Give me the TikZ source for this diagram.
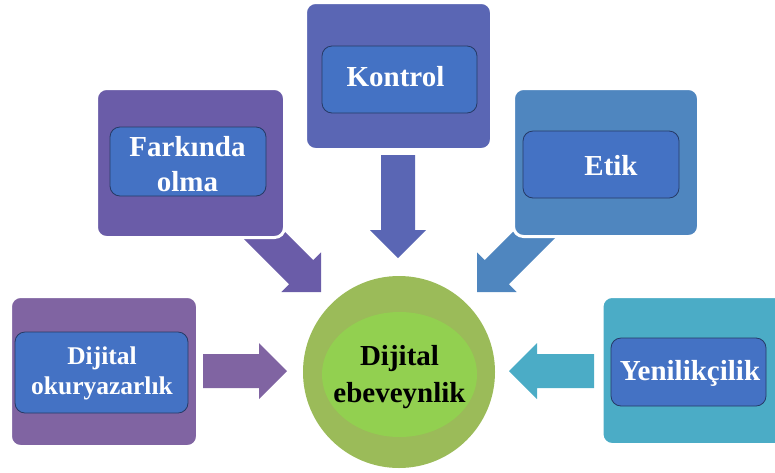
\documentclass[tikz,border=0pt]{standalone}
\usepackage{fontspec}
\setmainfont{Liberation Serif}
\usetikzlibrary{calc,shapes.geometric}
\definecolor{okurC}{HTML}{8064A2}
\definecolor{farkC}{HTML}{6A5CA8}
\definecolor{kontC}{HTML}{5A66B4}
\definecolor{etikC}{HTML}{4F86BF}
\definecolor{yeniC}{HTML}{4BACC6}
\definecolor{innerC}{HTML}{4472C4}
\definecolor{innerB}{HTML}{263A66}
\definecolor{circO}{HTML}{9BBB59}
\definecolor{circI}{HTML}{92D050}
\newcommand\blockarrow[3]{%
  \coordinate (bah) at ($(#2)!28pt!(#1)$);
  \fill[#3] ($(#1)!17pt!90:(#2)$) -- ($(bah)!17pt!90:(#2)$) -- ($(bah)!28pt!90:(#2)$) -- (#2)
    -- ($(bah)!28pt!-90:(#2)$) -- ($(bah)!17pt!-90:(#2)$) -- ($(#1)!17pt!-90:(#2)$) -- cycle;
}
\tikzset{
  outerbox/.style={rectangle, rounded corners=10pt, draw=white, line width=3pt, inner sep=0pt},
  innerbox/.style={rectangle, rounded corners=10pt, draw=innerB, line width=0.8pt, fill=innerC, inner sep=0pt},
  lbl/.style={text=white, align=center, inner sep=0pt, font=\fontsize{29}{35}\selectfont\bfseries},
  lblsmall/.style={text=white, align=center, inner sep=0pt, font=\fontsize{25.5}{30}\selectfont\bfseries},
}
\begin{document}
\begin{tikzpicture}[x=1pt,y=-1pt]
\useasboundingbox (0,0) rectangle (775,472);
% arrow end points
\coordinate (t1) at (203,371); \coordinate (p1) at (287,371);
\coordinate (t2) at (251,222); \coordinate (p2) at (321,292);
\coordinate (t3) at (398,155); \coordinate (p3) at (398,258);
\coordinate (t4) at (548,221); \coordinate (p4) at (477,292);
\coordinate (t5) at (594,371); \coordinate (p5) at (509,371);
\blockarrow{t1}{p1}{okurC}
\blockarrow{t2}{p2}{farkC}
\blockarrow{t3}{p3}{kontC}
\blockarrow{t4}{p4}{etikC}
\blockarrow{t5}{p5}{yeniC}
% outer boxes
\node[outerbox, fill=okurC, minimum width=187pt, minimum height=150pt] (okur) at (104,371.5) {};
\node[outerbox, fill=farkC, minimum width=188pt, minimum height=149pt] (fark) at (190.5,163) {};
\node[outerbox, fill=kontC, minimum width=186pt, minimum height=147pt] (kont) at (398.5,76) {};
\node[outerbox, fill=etikC, minimum width=185pt, minimum height=148pt] (etik) at (606,162.5) {};
\node[outerbox, fill=yeniC, minimum width=190pt, minimum height=148pt] (yeni) at (697,370.5) {};
% inner boxes
\node[innerbox, minimum width=173pt, minimum height=81pt] (okurI) at (101.5,372.5) {};
\node[innerbox, minimum width=156pt, minimum height=69pt] (farkI) at (188,161.5) {};
\node[innerbox, minimum width=155pt, minimum height=67pt] (kontI) at (399.5,79.5) {};
\node[innerbox, minimum width=156pt, minimum height=67pt] (etikI) at (601,164.5) {};
\node[innerbox, minimum width=155pt, minimum height=68pt] (yeniI) at (688.5,372) {};
% texts
\node[lblsmall] (okurT) at (102,373) {Dijital\\okuryazarlık};
\node[lbl] (farkT) at (187.5,164) {Farkında\\olma};
\node[lbl] (kontT) at (395.5,77) {Kontrol};
\node[lbl] (etikT) at (611,166) {Etik};
\node[lbl] (yeniT) at (690,373) {Yenilikçilik};
% centre
\node[circle, fill=circO, minimum size=192pt, inner sep=0pt] (c) at (399,372) {};
\node[ellipse, fill=circI, minimum width=155pt, minimum height=125pt, inner sep=0pt] (cI) at (399.5,374.5) {};
\node[lbl, text=black, font=\fontsize{29}{37}\selectfont\bfseries] (cT) at (399.5,377) {Dijital\\ebeveynlik};
\end{tikzpicture}
\end{document}
